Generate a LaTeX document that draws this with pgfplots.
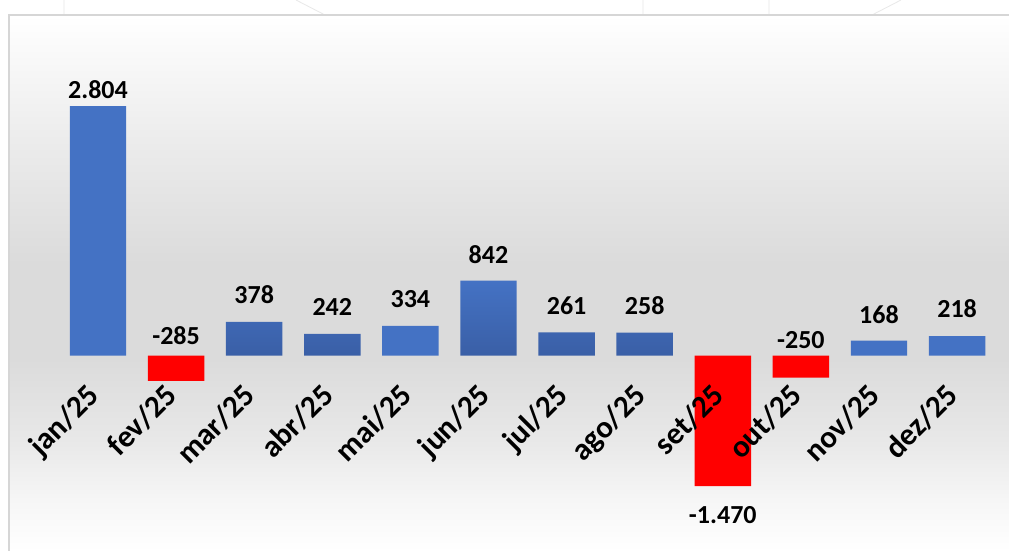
\documentclass[border=0pt]{standalone}
\usepackage{pgfplots}
\pgfplotsset{compat=1.18}
\usepackage{fontspec}
\setmainfont{Carlito}

\definecolor{barblue}{HTML}{4472C4}
\definecolor{barbluedk}{HTML}{3A5FA6}
\definecolor{barred}{HTML}{FF0000}
\definecolor{framegray}{HTML}{D6D6D6}

% panel gradient, bottom -> top (middle 50bp maps onto the path)
\pgfdeclareverticalshading{panel}{100bp}{%
  color(0bp)=(white); color(25bp)=(white);
  color(29.75bp)=(black!3.5); color(35.35bp)=(black!9);
  color(42.8bp)=(black!14); color(52bp)=(black!14);
  color(62.5bp)=(black!8); color(75bp)=(white); color(100bp)=(white)}

\pgfplotstableread{
x y label
0 2994 2.804
1 224 -285
2 680 378
3 544 242
4 636 334
5 1139 842
6 563 261
7 560 258
8 -1792 -1.470
9 179 -250
10 465 168
11 526 218
}\valuelabels

\pgfplotstableread{
x y label
-0.16 -298 jan/25
0.84 -298 fev/25
1.84 -298 mar/25
2.84 -298 abr/25
3.84 -298 mai/25
4.84 -298 jun/25
5.84 -298 jul/25
6.84 -298 ago/25
7.84 -298 set/25
8.84 -298 out/25
9.84 -298 nov/25
10.84 -298 dez/25
}\monthlabels

\begin{document}
\begin{tikzpicture}[x=1pt,y=1pt]
\useasboundingbox (0,0) rectangle (1009,551);
\fill[white] (0,0) rectangle (1009,551);
% faint lines above the panel
\draw[black!9, line width=0.8pt] (64,536) -- (64,551) (643,536) -- (643,551) (769,536) -- (769,551)
  (296,551) -- (325,536) (901,551) -- (872,536);
% panel
\shade[shading=panel] (9,0) rectangle (1009,536);
\draw[framegray, line width=2pt] (9,0) -- (9,536) -- (1009,536);

\begin{axis}[
  at={(0,0)}, anchor=south west,
  scale only axis, width=1009pt, height=551pt,
  xmin=-1.2548, xmax=11.6645, ymin=-2199, ymax=3999,
  axis lines=none, ticks=none, clip=false,
  bar width=0.723,
]
% flat blue bars
\addplot[ybar, bar shift=0pt, fill=barblue, draw=none]
  coordinates {(0,2804) (4,334) (10,168) (11,218)};
% shaded blue bars
\addplot[ybar, bar shift=0pt, top color=barblue, bottom color=barbluedk, draw=none]
  coordinates {(2,378) (3,242) (5,842) (6,261) (7,258)};
% negative bars
\addplot[ybar, bar shift=0pt, fill=barred, draw=none]
  coordinates {(1,-285) (8,-1470) (9,-250)};

% value labels
\addplot[draw=none, mark=none, nodes near coords, point meta=explicit symbolic,
  nodes near coords style={anchor=center, inner sep=0pt, text=black,
    font=\fontsize{26}{30}\selectfont\bfseries}]
  table[x=x, y=y, meta=label] {\valuelabels};

% month labels
\addplot[draw=none, mark=none, nodes near coords, point meta=explicit symbolic,
  nodes near coords style={rotate=45, anchor=north east, inner sep=0pt, text=black,
    font=\fontsize{31}{36}\selectfont\bfseries}]
  table[x=x, y=y, meta=label] {\monthlabels};
\end{axis}
\end{tikzpicture}
\end{document}
